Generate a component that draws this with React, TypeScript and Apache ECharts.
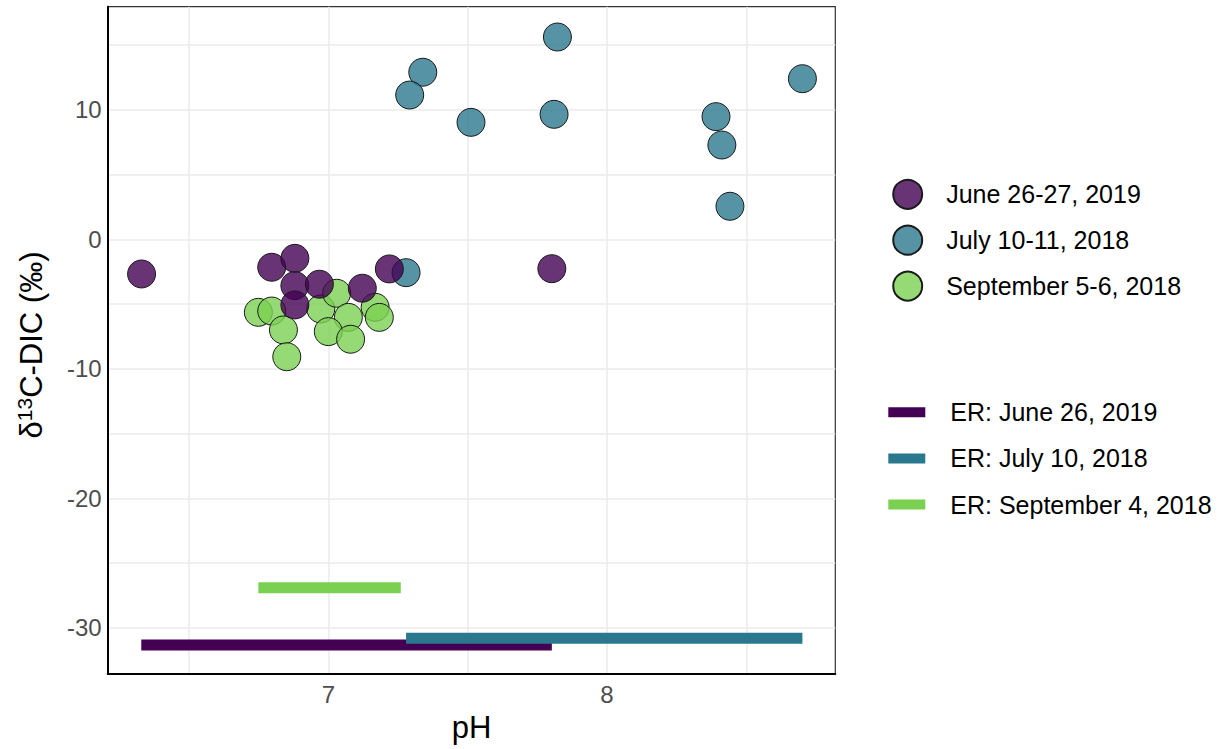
import React, { useEffect, useRef } from "react";
import * as echarts from "echarts";

// Sample points: pH and δ13C-DIC (‰)
const junePH = [6.33, 6.797, 6.88, 6.88, 6.88, 6.968, 7.122, 7.219, 7.802];
const juneD13C = [-2.68, -2.16, -1.47, -3.58, -5.07, -3.47, -3.78, -2.29, -2.27];

const julyPH = [7.339, 7.292, 7.279, 7.822, 7.512, 7.81, 8.391, 8.412, 8.441, 8.701];
const julyD13C = [12.9, 11.14, -2.58, 15.62, 9.03, 9.65, 9.47, 7.28, 2.55, 12.4];

const septPH = [6.749, 6.797, 6.839, 6.851, 6.973, 7.03, 7.072, 7.0, 7.08, 7.168, 7.183];
const septD13C = [-5.64, -5.54, -7.0, -9.07, -5.38, -4.17, -6.03, -7.13, -7.72, -5.25, -6.03];

// ER ranges (pH extent, δ13C value)
const erJunePH = [6.329, 7.802];
const erJuneD13C = -31.33;
const erJulyPH = [7.279, 8.701];
const erJulyD13C = -30.81;
const erSeptPH = [6.749, 7.26];
const erSeptD13C = -26.9;

const pointNames = ["June 26-27, 2019", "July 10-11, 2018", "September 5-6, 2018"];
const erNames = ["ER: June 26, 2019", "ER: July 10, 2018", "ER: September 4, 2018"];

const xTickLabels = [7, 8];
const xGridValues = [6.5, 7, 7.5, 8, 8.5];
const yTickLabels = [-30, -20, -10, 0, 10];
const yGridValues = [-30, -25, -20, -15, -10, -5, 0, 5, 10, 15];

const FONT = "'Liberation Sans', Arial, sans-serif";

function zip(xs: number[], ys: number[]) {
  return xs.map((x, i) => [x, ys[i]]);
}

export default function App() {
  const ref = useRef<HTMLDivElement>(null);
  useEffect(() => {
    if (!ref.current) return;
    const chart = echarts.init(ref.current, undefined, { renderer: "svg" });
    const pointStyle = (c: string) => ({
      color: c,
      opacity: 1,
      borderColor: "#1a1a1a",
      borderWidth: 1,
    });
    const erSeries = (name: string, color: string, ph: number[], v: number) => ({
      name,
      type: "line",
      color,
      data: [[ph[0], v], [ph[1], v]],
      symbol: "none",
      showSymbol: false,
      lineStyle: { color, width: 11, cap: "butt" },
      z: 2,
      silent: true,
    });
    const option: any = {
      animation: false,
      backgroundColor: "#ffffff",
      grid: {
        left: 107.7,
        top: 6.7,
        width: 727.6,
        height: 667.3,
        show: true,
        borderColor: "#333333",
        borderWidth: 1.2,
        containLabel: false,
      },
      xAxis: {
        type: "value",
        min: 6.2085,
        max: 8.819,
        name: "pH",
        nameLocation: "middle",
        nameGap: 38,
        nameTextStyle: { fontFamily: FONT, fontSize: 31, color: "#000" },
        axisLine: { show: true, onZero: false, lineStyle: { color: "#000", width: 2 } },
        axisTick: { show: false, customValues: xGridValues },
        axisLabel: {
          customValues: xTickLabels,
          fontFamily: FONT,
          fontSize: 24,
          color: "#4d4d4d",
          margin: 8,
        },
        splitLine: { show: true, lineStyle: { color: "#ebebeb", width: 1.5 } },
      },
      yAxis: {
        type: "value",
        min: -33.57,
        max: 17.96,
        axisLine: { show: true, onZero: false, lineStyle: { color: "#000", width: 2 } },
        axisTick: { show: false, customValues: yGridValues },
        axisLabel: {
          customValues: yTickLabels,
          fontFamily: FONT,
          fontSize: 24,
          color: "#4d4d4d",
          margin: 6,
        },
        splitLine: { show: true, lineStyle: { color: "#ebebeb", width: 1.5 } },
      },
      legend: [
        {
          data: pointNames,
          orient: "vertical",
          left: 892.2,
          top: 178.8,
          padding: 0,
          icon: "circle",
          itemWidth: 29,
          itemHeight: 29,
          itemGap: 14.9,
          selectedMode: false,
          itemStyle: { opacity: 1 },
          textStyle: { fontFamily: FONT, fontSize: 25, color: "#000", lineHeight: 29, padding: [0, 0, 0, 19] },
        },
        {
          data: erNames,
          orient: "vertical",
          left: 888.3,
          top: 397.8,
          padding: 0,
          icon: "rect",
          itemWidth: 37,
          itemHeight: 10,
          itemGap: 17.1,
          selectedMode: false,
          textStyle: { fontFamily: FONT, fontSize: 25, color: "#000", lineHeight: 29, padding: [0, 0, 0, 20] },
        },
      ],
      graphic: [
        {
          type: "text",
          x: 30,
          y: 345,
          rotation: Math.PI / 2,
          style: {
            text: "{m|δ}{s|13}{m|C-DIC (‰)}",
            align: "center",
            verticalAlign: "middle",
            fill: "#000",
            fontFamily: FONT,
            rich: {
              m: { fontFamily: FONT, fontSize: 31, lineHeight: 33, verticalAlign: "bottom", fill: "#000" },
              s: { fontFamily: FONT, fontSize: 21, lineHeight: 20, verticalAlign: "top", padding: [0, 0, 26, 0], fill: "#000" },
            },
          },
        },
      ],
      series: [
        erSeries(erNames[0], "#440154", erJunePH, erJuneD13C),
        erSeries(erNames[1], "#2a788e", erJulyPH, erJulyD13C),
        erSeries(erNames[2], "#7ad151", erSeptPH, erSeptD13C),
        {
          name: pointNames[1],
          type: "scatter",
          data: zip(julyPH, julyD13C),
          symbol: "circle",
          symbolSize: 28,
          itemStyle: pointStyle("rgba(42,120,142,0.8)"),
          z: 3,
        },
        {
          name: pointNames[2],
          type: "scatter",
          data: zip(septPH, septD13C),
          symbol: "circle",
          symbolSize: 28,
          itemStyle: pointStyle("rgba(122,209,81,0.8)"),
          z: 4,
        },
        {
          name: pointNames[0],
          type: "scatter",
          data: zip(junePH, juneD13C),
          symbol: "circle",
          symbolSize: 28,
          itemStyle: pointStyle("rgba(68,1,84,0.8)"),
          z: 5,
        },
      ],
    };
    chart.setOption(option);
    return () => chart.dispose();
  }, []);
  return (
    <div
      ref={ref}
      style={{ position: "fixed", left: 0, top: 0, width: 1223, height: 749, background: "#fff" }}
    />
  );
}
